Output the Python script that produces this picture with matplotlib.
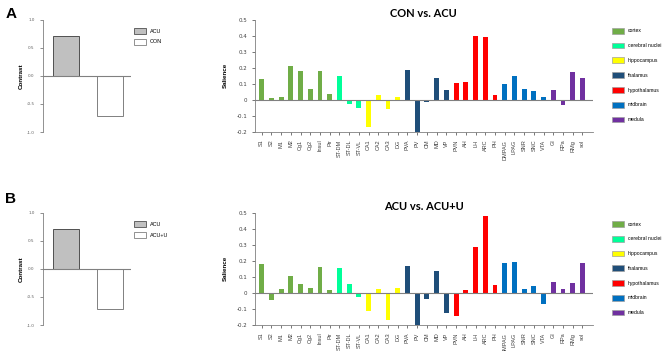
import numpy as np
import matplotlib
matplotlib.use("Agg")
import matplotlib.pyplot as plt
from matplotlib.patches import Patch

# Daten
regions = ["S1", "S2", "M1", "M2", "Cg1", "Cg2", "Insul", "Pir",
           "ST-DM", "ST-DL", "ST-VL",
           "CA1", "CA2", "CA3", "DG",
           "PVA", "PV", "CM", "MD", "VP",
           "PVN", "AH", "LH", "ARC", "PH",
           "DMPAG", "LPAG", "SNR", "SNC", "VTA",
           "GI", "RPa", "RMg", "sol"]
groups = ["cortex"] * 8 + ["cerebral nuclei"] * 3 + ["hippocampus"] * 4 + \
         ["thalamus"] * 5 + ["hypothalamus"] * 5 + ["midbrain"] * 5 + ["medula"] * 4
group_names = ["cortex", "cerebral nuclei", "hippocampus", "thalamus",
               "hypothalamus", "midbrain", "medula"]
group_colors = ["#70AD47", "#00FF99", "#FFFF00", "#1F4E79",
                "#FF0000", "#0070C0", "#7030A0"]

sal_con_acu = [0.13, 0.01, 0.02, 0.21, 0.177, 0.068, 0.18, 0.039,
               0.15, -0.027, -0.05,
               -0.17, 0.029, -0.058, 0.02,
               0.187, -0.2, -0.016, 0.138, 0.062,
               0.105, 0.109, 0.397, 0.389, 0.033,
               0.10, 0.146, 0.068, 0.058, 0.019,
               0.06, -0.035, 0.173, 0.138]
sal_acu_acuu = [0.179, -0.046, 0.025, 0.104, 0.056, 0.029, 0.158, 0.019,
                0.154, 0.054, -0.025,
                -0.11, 0.023, -0.169, 0.029,
                0.165, -0.2, -0.037, 0.135, -0.123,
                -0.142, 0.019, 0.287, 0.477, 0.048,
                0.185, 0.194, 0.023, 0.044, -0.071,
                0.067, 0.027, 0.0625, 0.1875]

contrast_a = [0.71, -0.71]
contrast_b = [0.71, -0.71]
labels_a = ["ACU", "CON"]
labels_b = ["ACU", "ACU+U"]
titles = ["CON vs. ACU", "ACU vs. ACU+U"]

title_font = ["Lato", "DejaVu Sans"]
small_font = ["Liberation Sans", "DejaVu Sans"]
grau = "#808080"

fig = plt.figure(figsize=(6.69, 3.51), dpi=100)
cmap = dict(zip(group_names, group_colors))

panels = [
    (0.6239, contrast_a, labels_a, sal_con_acu, titles[0], "A", 0.948),
    (0.074, contrast_b, labels_b, sal_acu_acuu, titles[1], "B", 0.422),
]

for bottom, contrast, lab, sal, titel, buchstabe, ybuch in panels:
    # linke Kontrast-Grafik
    ax = fig.add_axes([0.0643, bottom, 0.1315, 0.32])
    ax.bar([0, 1], contrast, width=0.6, color=["#C0C0C0", "white"],
           edgecolor=["#505050", grau], linewidth=0.7, zorder=2)
    ax.axhline(0, color=grau, linewidth=0.8, zorder=3)
    ax.set_xlim(-0.53, 1.49)
    ax.set_ylim(-1.0, 1.0)
    ax.set_yticks([-1.0, -0.5, 0.0, 0.5, 1.0])
    ax.set_yticklabels(["-1.0", "-0.5", "0.0", "0.5", "1.0"])
    ax.set_xticks([])
    for s in ["top", "right", "bottom"]:
        ax.spines[s].set_visible(False)
    ax.spines["left"].set_color(grau)
    ax.spines["left"].set_linewidth(0.6)
    ax.tick_params(axis="y", labelsize=3, colors="#606060", length=2, width=0.5, pad=4)
    ax.set_ylabel("Contrast", fontsize=4.5, fontweight="bold", family=small_font, labelpad=2)
    fig.legend(handles=[Patch(facecolor="#C0C0C0", edgecolor="#505050", linewidth=0.6),
                        Patch(facecolor="white", edgecolor=grau, linewidth=0.6)],
               labels=lab, loc="upper left",
               bbox_to_anchor=(134 / 669, bottom + 0.32 - 0.023),
               frameon=False, prop={"family": small_font, "size": 4},
               handlelength=2.16, handleheight=1.26, labelspacing=0.9,
               handletextpad=0.7, borderpad=0, borderaxespad=0)

    fig.text(0.008, ybuch, buchstabe, fontsize=11, fontweight="bold", family=small_font)

    # rechte Salienz-Grafik
    ax2 = fig.add_axes([0.381, bottom, 0.505, 0.3205])
    x = np.arange(len(regions))
    ax2.bar(x, sal, width=0.5, color=[cmap[g] for g in groups], zorder=2)
    ax2.axhline(0, color=grau, linewidth=0.8, zorder=3)
    ax2.set_xlim(-0.7, len(regions) - 1 + 1.06)
    ax2.set_ylim(-0.2, 0.5)
    ax2.set_yticks([-0.2, -0.1, 0, 0.1, 0.2, 0.3, 0.4, 0.5])
    ax2.set_yticklabels(["-0.2", "-0.1", "0", "0.1", "0.2", "0.3", "0.4", "0.5"])
    ax2.set_xticks(x)
    ax2.set_xticklabels(regions, rotation=90, family=small_font)
    for s in ["top", "right"]:
        ax2.spines[s].set_visible(False)
    for s in ["left", "bottom"]:
        ax2.spines[s].set_color(grau)
        ax2.spines[s].set_linewidth(0.6)
    ax2.tick_params(axis="both", labelsize=4, colors="#404040", length=2, width=0.5)
    ax2.set_ylabel("Salience", fontsize=4.5, fontweight="bold", family=small_font, labelpad=6)
    ax2.set_title(titel, fontsize=8, fontweight="bold", family=title_font, pad=2)

    fig.legend(handles=[Patch(facecolor=c, edgecolor="#A0A0A0", linewidth=0.5) for c in group_colors],
               labels=group_names, loc="upper left",
               bbox_to_anchor=(611.7 / 669, bottom + 0.3205 - 0.024),
               frameon=False, prop={"family": small_font, "size": 3.6},
               handlelength=2.4, handleheight=1.4, labelspacing=1.8,
               handletextpad=0.8, borderpad=0, borderaxespad=0)

fig.savefig("out.png", dpi=100)
